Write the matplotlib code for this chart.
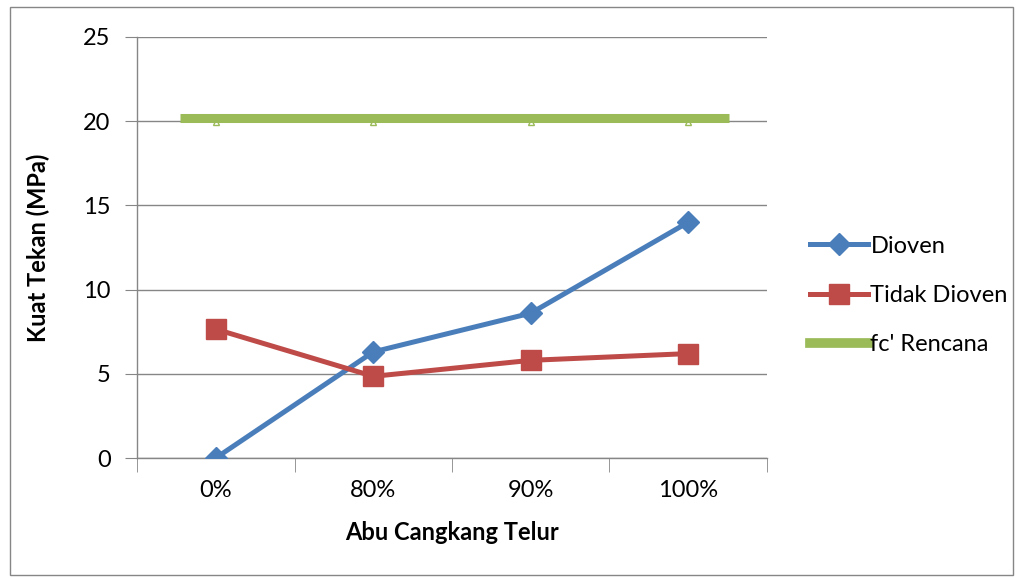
import numpy as np
import matplotlib.pyplot as plt
from matplotlib.lines import Line2D
from matplotlib.patches import Rectangle

# data
categories = ["0%", "80%", "90%", "100%"]
dioven = [0.0, 6.3, 8.6, 14.0]
tidak_dioven = [7.65, 4.85, 5.8, 6.2]
fc_rencana = [20.0, 20.0, 20.0, 20.0]
y_ticks = [0, 5, 10, 15, 20, 25]

blue = "#4a7ebb"
red = "#be4b48"
green = "#9bbb59"
grey = "#868686"

plt.rcParams['font.family'] = ['Lato', 'DejaVu Sans']

fig = plt.figure(figsize=(10.18, 5.78), dpi=100)
ax = fig.add_axes([0.1346, 0.2076, 0.6188, 0.7284])

x = np.arange(len(categories))

# fc' Rencana drawn as a thick band slightly above the marker level
ax.hlines(np.mean(fc_rencana) + 0.2, x[0] - 0.225, x[-1] + 0.26, color=green,
          linewidth=6.5, zorder=3)
ax.plot(x, np.array(fc_rencana) - 0.05, linestyle='none', marker='^', markersize=5,
        markerfacecolor='white', markeredgecolor=green, markeredgewidth=1, zorder=2)

ax.plot(x, dioven, color=blue, linewidth=3.6, marker='D', markersize=11,
        markerfacecolor=blue, markeredgecolor=blue, zorder=4)
ax.plot(x, tidak_dioven, color=red, linewidth=3.6, marker='s', markersize=14,
        markerfacecolor=red, markeredgecolor=red, zorder=4)

ax.set_xlim(-0.5, len(categories) - 0.5)
ax.set_ylim(0, 25)
ax.set_yticks(y_ticks)
ax.set_xticks(x)
ax.set_xticklabels(categories)
ax.set_xticks(np.arange(len(categories) + 1) - 0.5, minor=True)

ax.grid(axis='y', color=grey, linewidth=1)
ax.set_axisbelow(True)
for side in ['top', 'right']:
    ax.spines[side].set_visible(False)
for side in ['left', 'bottom']:
    ax.spines[side].set_color(grey)
    ax.spines[side].set_linewidth(1)

ax.tick_params(axis='y', length=9, color=grey, labelsize=17, pad=10)
ax.tick_params(axis='x', which='major', length=0, labelsize=17, pad=16)
ax.tick_params(axis='x', which='minor', length=10, color=grey)

ax.set_xlabel("Abu Cangkang Telur", fontsize=17, fontweight='bold', labelpad=14)
ax.set_ylabel("Kuat Tekan (MPa)", fontsize=17, fontweight='bold', labelpad=24)

handles = [
    Line2D([], [], color=blue, linewidth=3.6, marker='D', markersize=11),
    Line2D([], [], color=red, linewidth=3.6, marker='s', markersize=14),
    Line2D([], [], color=green, linewidth=7),
]
fig.legend(handles, ["Dioven", "Tidak Dioven", "fc' Rencana"],
           loc='center left', bbox_to_anchor=(0.775, 0.489), frameon=False,
           fontsize=17, handlelength=2.45, handletextpad=0.1, labelspacing=1.2)

# outer chart frame
fig.patches.append(Rectangle((0.0098, 0.005), 0.985, 0.983, transform=fig.transFigure,
                             fill=False, edgecolor=grey, linewidth=1))

fig.savefig("out.png", dpi=100)
